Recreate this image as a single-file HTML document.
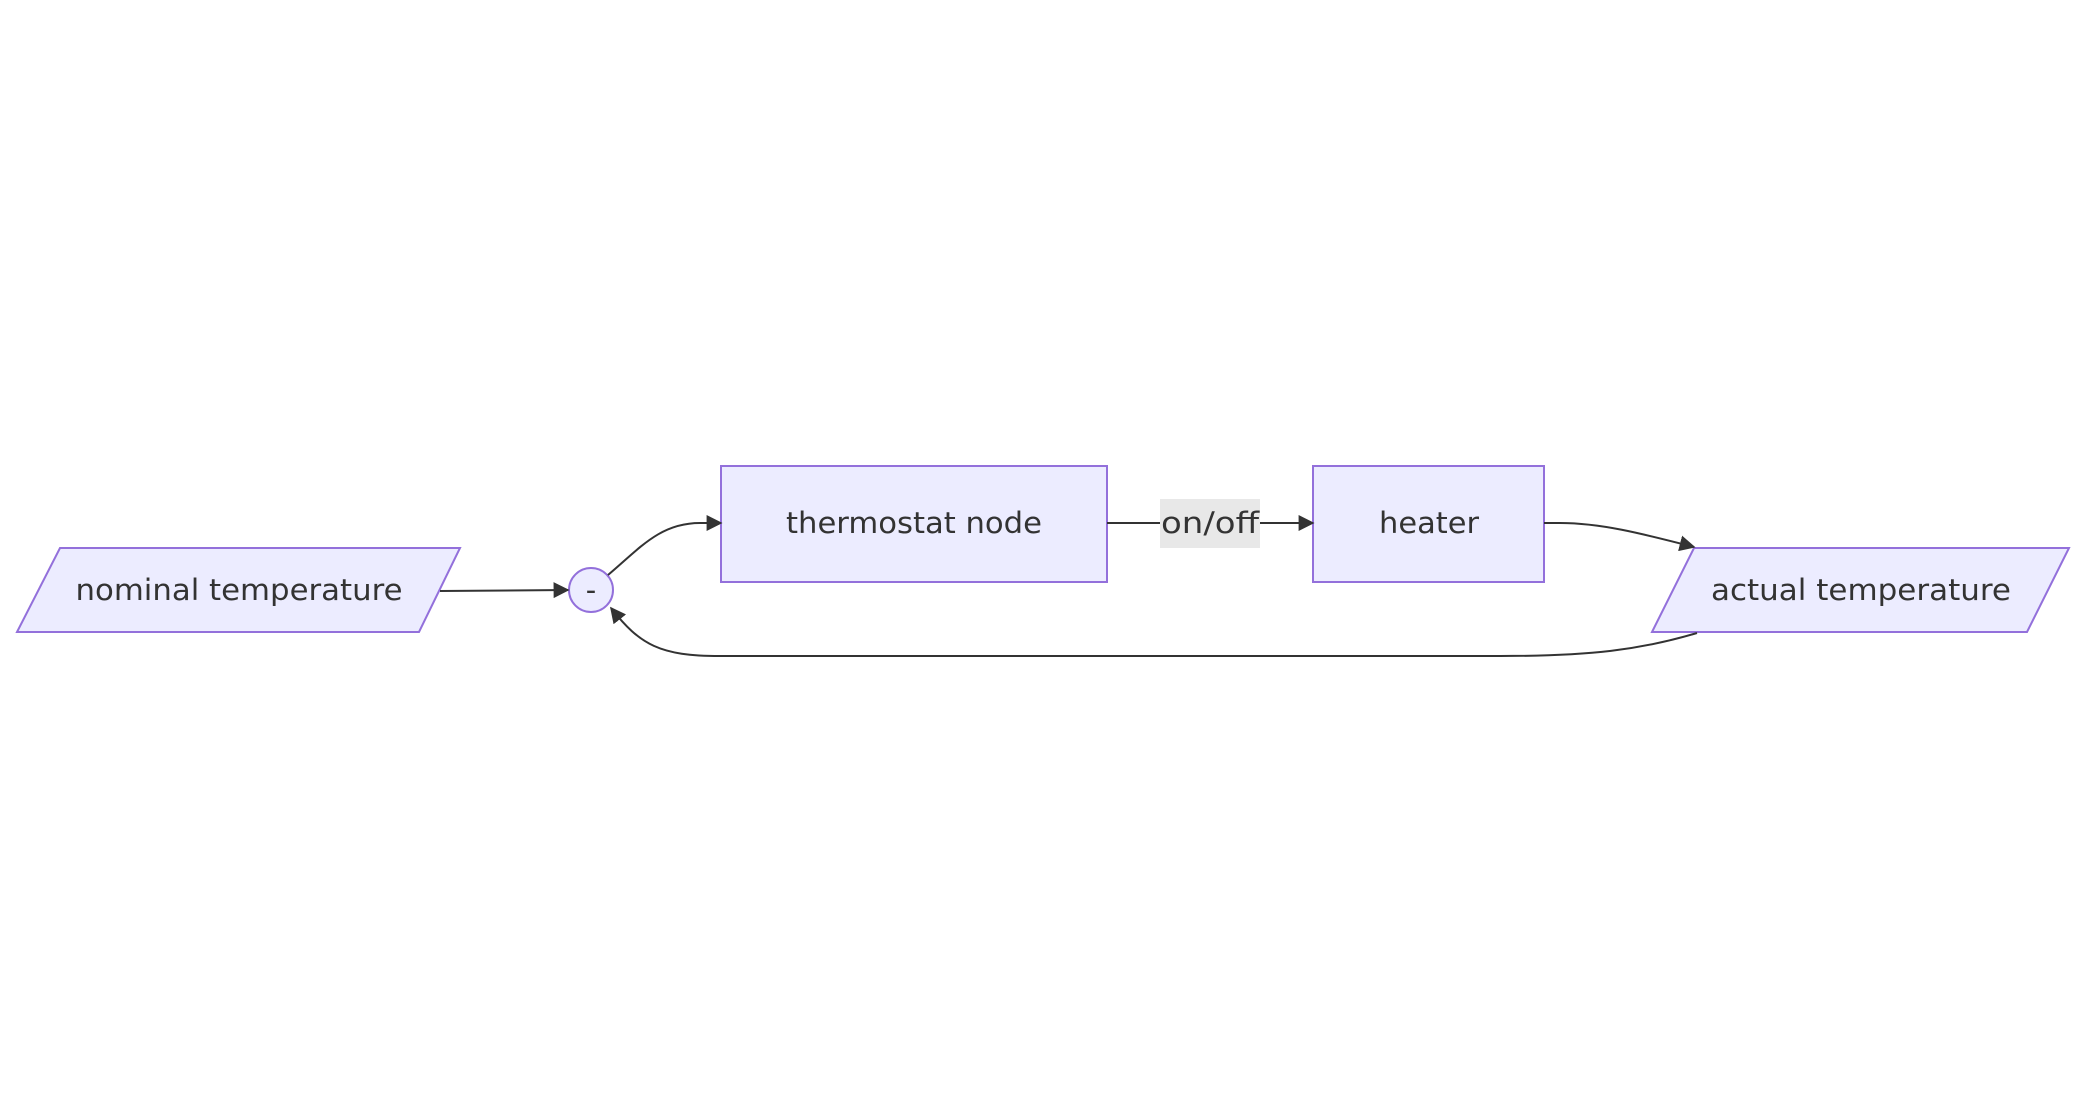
<!DOCTYPE html>
<html><head><meta charset="utf-8"><style>html,body{margin:0;padding:0;background:#fff}</style></head><body>
<svg width="2076" height="1118" viewBox="0 0 2076 1118" xmlns="http://www.w3.org/2000/svg" style="display:block">
<defs><marker id="a" viewBox="0 0 10 10" refX="9" refY="5" markerWidth="8" markerHeight="8" markerUnits="userSpaceOnUse" orient="auto"><path d="M0,0L10,5L0,10z" fill="#333"/></marker>
<marker id="b" viewBox="0 0 10 10" refX="9" refY="5" markerWidth="16" markerHeight="16" markerUnits="userSpaceOnUse" orient="auto"><path d="M0,0L10,5L0,10z" fill="#333"/></marker></defs>
<g fill="#ECECFF" stroke="#9370DB" stroke-width="2">
<polygon points="60,548 460,548 419,632 17,632"/>
<circle cx="591" cy="590" r="22"/>
<rect x="721" y="466" width="386" height="116"/>
<rect x="1313" y="466" width="231" height="116"/>
<polygon points="1694,548 2069,548 2027,632 1652,632"/>
</g>
<rect x="1160" y="499" width="100" height="49" fill="#e8e8e8"/>
<g fill="none" stroke="#333" stroke-width="2">
<path d="M440,591 L568,590" marker-end="url(#b)"/>
<path d="M608,575 C640,548 660,523 700,523 L721,523" marker-end="url(#b)"/>
<path d="M1107,523 L1160,523 M1260,523 L1313,523" marker-end="url(#b)"/>
<path d="M1544,523 L1560,523 C1600,523 1640,533 1694,547" marker-end="url(#b)"/>
<path d="M1697,633 C1640,650 1590,656 1500,656 L720,656 C660,656 640,645 611,608" marker-end="url(#b)"/>
</g>
<g font-family="'DejaVu Sans','Liberation Sans',sans-serif" font-size="29" fill="#333" text-anchor="middle">
<text x="239" y="600" textLength="327" lengthAdjust="spacingAndGlyphs">nominal temperature</text>
<text x="591" y="600">-</text>
<text x="914" y="533" textLength="256" lengthAdjust="spacingAndGlyphs">thermostat node</text>
<text x="1210" y="533" textLength="98" lengthAdjust="spacingAndGlyphs">on/off</text>
<text x="1429" y="533" textLength="100" lengthAdjust="spacingAndGlyphs">heater</text>
<text x="1861" y="600" textLength="300" lengthAdjust="spacingAndGlyphs">actual temperature</text>
</g>
</svg>
</body></html>
